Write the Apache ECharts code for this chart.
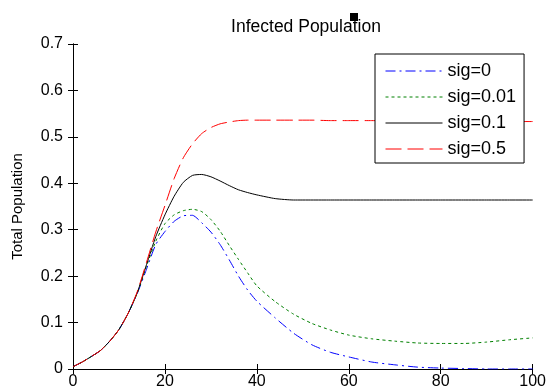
<!DOCTYPE html>
<html>
<head>
<meta charset="utf-8">
<script src="https://cdn.jsdelivr.net/npm/echarts@6/dist/echarts.min.js"></script>
<style>
  html, body { margin: 0; padding: 0; background: #fff; }
  #chart { width: 549px; height: 392px; }
</style>
</head>
<body>
<div id="chart"></div>
<script>
// time points (x) shared by all curves
const timeX = [0, 2, 4, 6, 8, 10, 12, 14, 16, 18, 20, 22, 24, 26, 28, 30, 32, 34, 36, 38, 40,
  44, 48, 52, 56, 60, 65, 70, 75, 80, 85, 90, 95, 100];

const sig0 = [0.005, 0.015, 0.027, 0.04, 0.06, 0.085, 0.12, 0.163, 0.215, 0.268, 0.296, 0.318, 0.33, 0.331,
  0.315, 0.295, 0.268, 0.235, 0.2, 0.17, 0.146, 0.11, 0.077, 0.052, 0.036, 0.026, 0.015, 0.009, 0.004,
  0.002, 0.001, 0, 0, 0];
const sig001 = [0.005, 0.015, 0.027, 0.04, 0.06, 0.085, 0.12, 0.164, 0.222, 0.275, 0.313, 0.332, 0.341, 0.344,
  0.339, 0.322, 0.297, 0.266, 0.236, 0.207, 0.179, 0.145, 0.118, 0.098, 0.084, 0.073, 0.065, 0.06, 0.056,
  0.055, 0.055, 0.058, 0.063, 0.067];
const sig01 = [0.005, 0.015, 0.027, 0.04, 0.06, 0.085, 0.12, 0.165, 0.225, 0.285, 0.332, 0.372, 0.402, 0.417,
  0.419, 0.414, 0.405, 0.395, 0.386, 0.38, 0.375, 0.367, 0.364, 0.364, 0.364, 0.364, 0.364, 0.364, 0.364,
  0.364, 0.364, 0.364, 0.364, 0.364];
const sig05 = [0.005, 0.015, 0.027, 0.04, 0.06, 0.085, 0.12, 0.167, 0.23, 0.295, 0.352, 0.41, 0.455, 0.485,
  0.507, 0.52, 0.528, 0.532, 0.535, 0.536, 0.536, 0.536, 0.536, 0.536, 0.535, 0.535, 0.535, 0.534, 0.534,
  0.534, 0.533, 0.533, 0.533, 0.533];

const seriesNames = ['sig=0', 'sig=0.01', 'sig=0.1', 'sig=0.5'];

const FONT = 'Liberation Sans';

function pairs(ys) {
  return timeX.map((x, i) => [x, ys[i]]);
}

function makeLine(name, ys, color, type) {
  return {
    name: name,
    type: 'line',
    data: pairs(ys),
    showSymbol: false,
    symbol: 'none',
    smooth: 0.2,
    lineStyle: { color: color, width: 1, type: type },
    itemStyle: { color: color },
    animation: false,
  };
}

const chart = echarts.init(document.getElementById('chart'));

const axisLine = { show: true, lineStyle: { color: '#000', width: 1 } };
const tick = { show: true, inside: true, length: 5, lineStyle: { color: '#000' } };

chart.setOption({
  animation: false,
  backgroundColor: '#fff',
  title: {
    text: 'Infected Population',
    left: 301,
    textAlign: 'center',
    top: 13,
    textStyle: { fontFamily: FONT, fontSize: 17.5, fontWeight: 'normal', color: '#000' },
  },
  grid: { left: 73, right: 16, top: 44, bottom: 23 },
  legend: {
    orient: 'vertical',
    left: 375,
    top: 54,
    width: 151,
    padding: [8, 8, 5, 10],
    itemWidth: 57,
    itemHeight: 14,
    itemGap: 8,
    borderColor: '#000',
    borderWidth: 1,
    backgroundColor: '#fff',
    itemStyle: { opacity: 0 },
    lineStyle: { width: 1 },
    textStyle: { fontFamily: FONT, fontSize: 18, lineHeight: 16, color: '#000' },
    data: seriesNames,
  },
  xAxis: [
    {
      type: 'value', min: 0, max: 100, interval: 20, position: 'bottom',
      axisLine: axisLine, axisTick: tick, splitLine: { show: false },
      axisLabel: { fontFamily: FONT, fontSize: 16, color: '#000', margin: 5 },
    },
    {
      type: 'value', min: 0, max: 100, interval: 20, position: 'top',
      axisLine: axisLine, axisTick: tick, splitLine: { show: false },
      axisLabel: { show: false },
    },
  ],
  yAxis: [
    {
      type: 'value', min: 0, max: 0.7, interval: 0.1, position: 'left',
      name: 'Total Population', nameLocation: 'middle', nameGap: 48,
      nameTextStyle: { fontFamily: FONT, fontSize: 15, color: '#000' },
      axisLine: axisLine, axisTick: tick, splitLine: { show: false },
      axisLabel: { fontFamily: FONT, fontSize: 16, color: '#000', margin: 10 },
    },
    {
      type: 'value', min: 0, max: 0.7, interval: 0.1, position: 'right',
      axisLine: axisLine, axisTick: tick, splitLine: { show: false },
      axisLabel: { show: false },
    },
  ],
  graphic: [
    { type: 'rect', left: 350, top: 13, shape: { width: 8, height: 8 }, style: { fill: '#000' } },
  ],
  series: [
    makeLine(seriesNames[0], sig0, '#0000ff', [10, 4, 2, 4]),
    makeLine(seriesNames[1], sig001, '#008000', [3, 3]),
    makeLine(seriesNames[2], sig01, '#000000', 'solid'),
    makeLine(seriesNames[3], sig05, '#ff0000', [16, 6]),
  ],
});
</script>
</body>
</html>
